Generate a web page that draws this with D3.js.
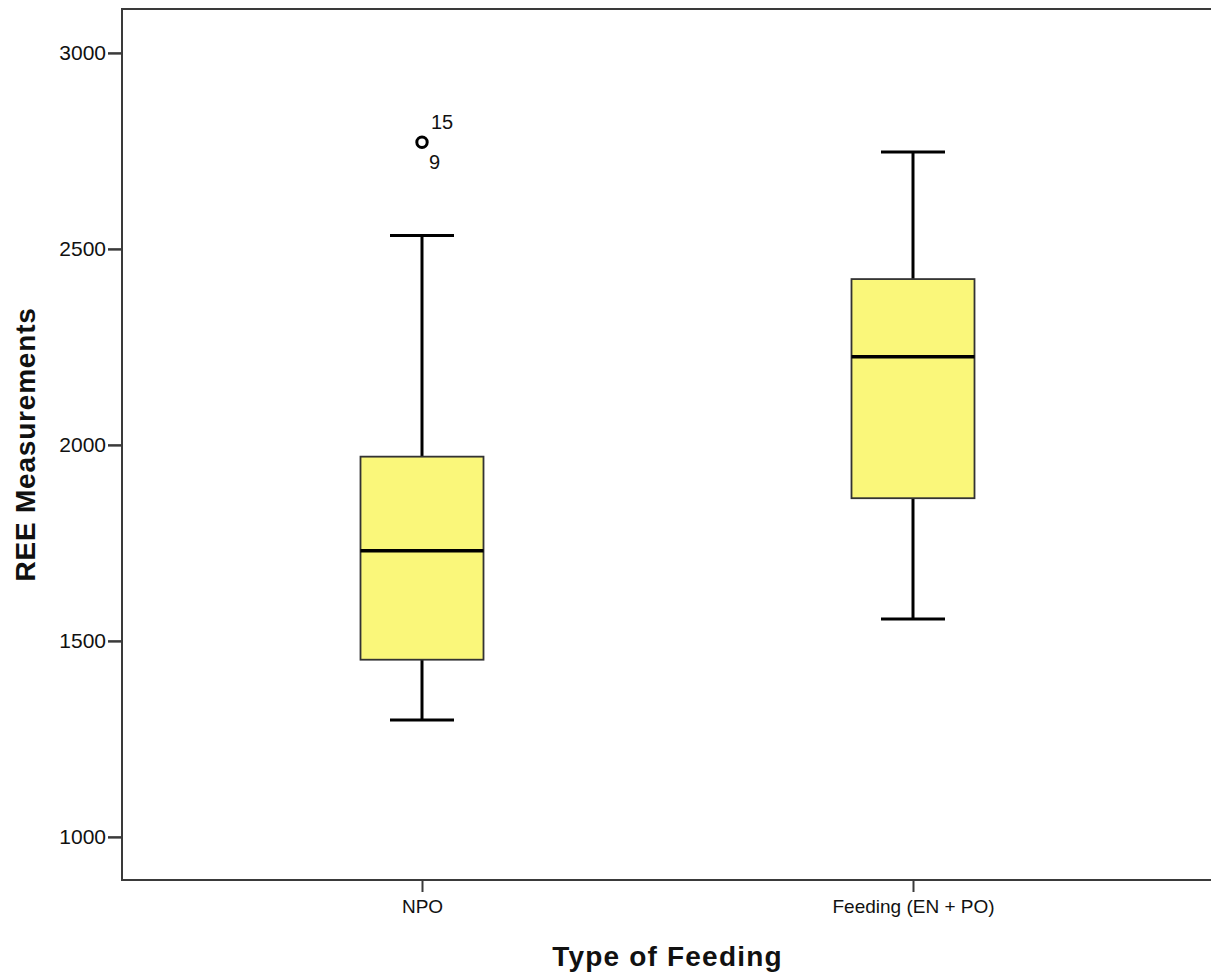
<!DOCTYPE html>
<html>
<head>
<meta charset="utf-8">
<script src="https://cdn.jsdelivr.net/npm/d3@7"></script>
<style>
  body { margin: 0; background: #fff; }
  text { font-family: "Liberation Sans", Arial, sans-serif; fill: #111; }
</style>
</head>
<body>
<div class="chart"></div>
<script>
// chart values
var categories = ["NPO", "Feeding (EN + PO)"];
var whiskerLow = [1298, 1556];
var q1 = [1452, 1864];
var median = [1730, 2225];
var q3 = [1970, 2423];
var whiskerHigh = [2534, 2747];
var outliers = [{ group: "NPO", value: 2772, labels: ["15", "9"] }];
var yTicks = [1000, 1500, 2000, 2500, 3000];

var W = 1211, H = 977;
var plotLeft = 122, plotRight = 1213, plotTop = 9, plotBottom = 880;

var svg = d3
  .select(".chart")
  .append("svg")
  .attr("width", W)
  .attr("height", H);

var xScale = d3
  .scalePoint()
  .domain(categories)
  .range([plotLeft, plotRight])
  .padding(0.611);

var yScale = d3.scaleLinear().domain([890, 3112]).range([plotBottom, plotTop]);

// frame
svg
  .append("rect")
  .attr("x", plotLeft)
  .attr("y", plotTop)
  .attr("width", plotRight - plotLeft)
  .attr("height", plotBottom - plotTop)
  .attr("fill", "none")
  .attr("stroke", "#3a3a3a")
  .attr("stroke-width", 2);

// y axis
var yAxis = svg
  .append("g")
  .attr("transform", `translate(${plotLeft}, 0)`)
  .call(d3.axisLeft(yScale).tickValues(yTicks).tickFormat(d3.format("d")).tickSize(14).tickSizeOuter(0).tickPadding(2));
yAxis.select(".domain").remove();
yAxis.selectAll("line").attr("stroke", "#3a3a3a").attr("stroke-width", 2.5);
yAxis.selectAll("text").style("font-size", "21px").attr("fill", "#1a1a1a");

// x axis
var xAxis = svg
  .append("g")
  .attr("transform", `translate(0, ${plotBottom})`)
  .call(d3.axisBottom(xScale).tickSize(12).tickSizeOuter(0).tickPadding(8));
xAxis.select(".domain").remove();
xAxis.selectAll("line").attr("stroke", "#3a3a3a").attr("stroke-width", 2);
xAxis.selectAll("text").style("font-size", "19px").attr("fill", "#1a1a1a");

// axis titles
svg
  .append("text")
  .attr("x", (plotLeft + plotRight) / 2)
  .attr("y", 966)
  .attr("text-anchor", "middle")
  .style("font-size", "28px")
  .style("font-weight", "bold")
  .style("letter-spacing", "1.2px")
  .text("Type of Feeding");

svg
  .append("text")
  .attr("transform", `translate(35, ${(plotTop + plotBottom) / 2}) rotate(-90)`)
  .attr("text-anchor", "middle")
  .style("font-size", "28px")
  .style("font-weight", "bold")
  .style("letter-spacing", "0.8px")
  .text("REE Measurements");

// boxes
var boxW = 123, capW = 64;
var boxes = categories.map((c, i) => ({
  name: c,
  lo: whiskerLow[i],
  q1: q1[i],
  med: median[i],
  q3: q3[i],
  hi: whiskerHigh[i],
}));

var g = svg.selectAll(".box").data(boxes).enter().append("g").attr("class", "box");

// whiskers
g.append("line")
  .attr("x1", (d) => xScale(d.name))
  .attr("x2", (d) => xScale(d.name))
  .attr("y1", (d) => yScale(d.q3))
  .attr("y2", (d) => yScale(d.hi))
  .attr("stroke", "#000")
  .attr("stroke-width", 3);
g.append("line")
  .attr("x1", (d) => xScale(d.name))
  .attr("x2", (d) => xScale(d.name))
  .attr("y1", (d) => yScale(d.q1))
  .attr("y2", (d) => yScale(d.lo))
  .attr("stroke", "#000")
  .attr("stroke-width", 3);
["hi", "lo"].forEach((k) => {
  g.append("line")
    .attr("x1", (d) => xScale(d.name) - capW / 2)
    .attr("x2", (d) => xScale(d.name) + capW / 2)
    .attr("y1", (d) => yScale(d[k]))
    .attr("y2", (d) => yScale(d[k]))
    .attr("stroke", "#000")
    .attr("stroke-width", 3);
});

g.append("rect")
  .attr("x", (d) => xScale(d.name) - boxW / 2)
  .attr("y", (d) => yScale(d.q3))
  .attr("width", boxW)
  .attr("height", (d) => yScale(d.q1) - yScale(d.q3))
  .attr("fill", "#faf77a")
  .attr("stroke", "#333")
  .attr("stroke-width", 1.8);

g.append("line")
  .attr("x1", (d) => xScale(d.name) - boxW / 2)
  .attr("x2", (d) => xScale(d.name) + boxW / 2)
  .attr("y1", (d) => yScale(d.med))
  .attr("y2", (d) => yScale(d.med))
  .attr("stroke", "#000")
  .attr("stroke-width", 3.5);

// outliers
var o = svg.selectAll(".outlier").data(outliers).enter().append("g");
o.append("circle")
  .attr("cx", (d) => xScale(d.group))
  .attr("cy", (d) => yScale(d.value))
  .attr("r", 5.2)
  .attr("fill", "none")
  .attr("stroke", "#000")
  .attr("stroke-width", 3);
o.append("text")
  .attr("x", (d) => xScale(d.group) + 9)
  .attr("y", (d) => yScale(d.value) - 13)
  .style("font-size", "20px")
  .text((d) => d.labels[0]);
o.append("text")
  .attr("x", (d) => xScale(d.group) + 7)
  .attr("y", (d) => yScale(d.value) + 27)
  .style("font-size", "20px")
  .text((d) => d.labels[1]);
</script>
</body>
</html>
